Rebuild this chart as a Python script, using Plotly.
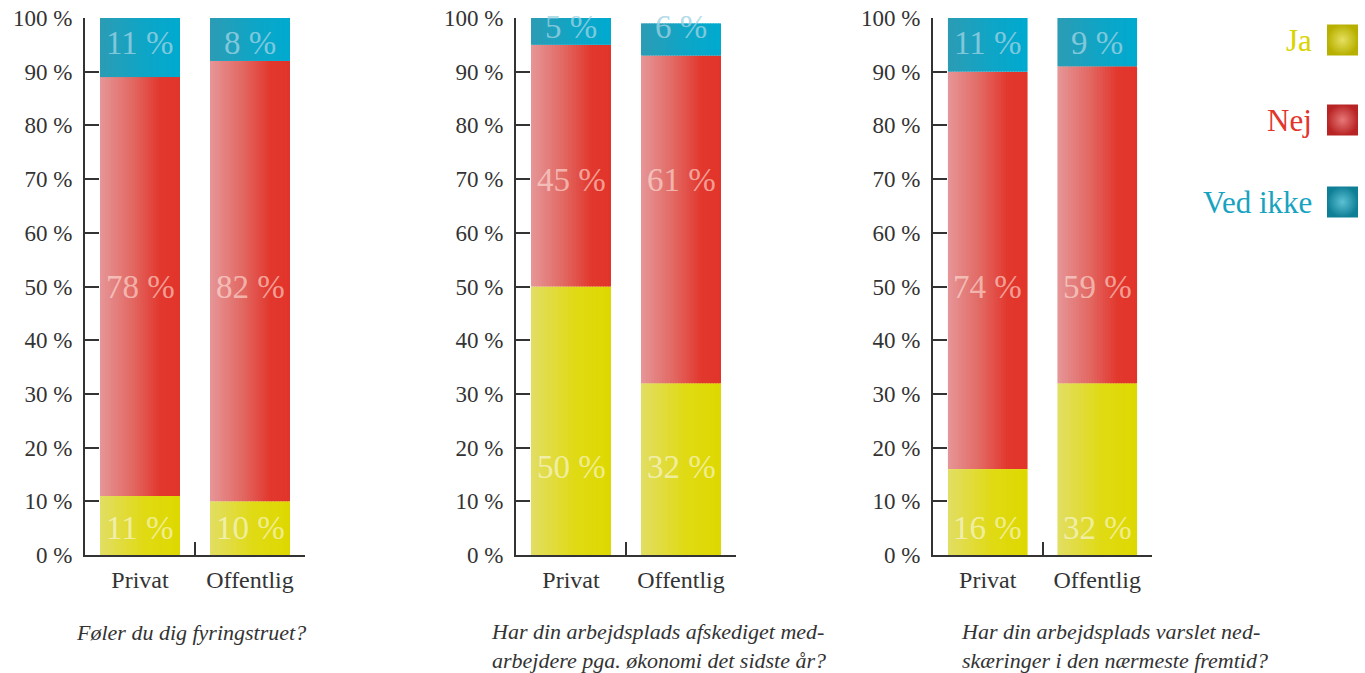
import plotly.graph_objects as go

# ---------------- data ----------------
categories = ["Privat", "Offentlig"]
questions = [
    "Føler du dig fyringstruet?",
    "Har din arbejdsplads afskediget med-<br>arbejdere pga. økonomi det sidste år?",
    "Har din arbejdsplads varslet ned-<br>skæringer i den nærmeste fremtid?",
]
ja = [[11, 10], [50, 32], [16, 32]]
nej = [[78, 82], [45, 61], [74, 59]]
ved_ikke = [[11, 8], [5, 6], [11, 9]]
series_names = ["Ja", "Nej", "Ved ikke"]
y_ticks = [0, 10, 20, 30, 40, 50, 60, 70, 80, 90, 100]
y_tick_labels = [f"{v} %" for v in y_ticks]

# where the value labels sit (axis units), per chart: Ja, Nej, Ved ikke
label_pos = [[5, 50, 95.3], [16.4, 69.8, 98.3], [5, 50, 95.3]]

# ---------------- styling ----------------
W, H = 1365, 673
FONT = '"Liberation Serif", "DejaVu Serif", serif'
AX = "#333333"

def px_x(x):
    return x / W

def px_y(y):
    return 1 - y / H

x_domains = [(85, 305), (516, 736), (933, 1152)]
y_domain = [px_y(555), px_y(18)]

grad_stops = {
    "Ja": [(0, (226, 222, 100)), (0.55, (224, 218, 20)), (1, (222, 216, 0))],
    "Nej": [(0, (230, 150, 152)), (0.4, (226, 105, 100)), (0.75, (226, 56, 46)), (1, (226, 52, 42))],
    "Ved ikke": [(0, (44, 156, 180)), (0.6, (12, 166, 200)), (1, (0, 170, 207))],
}
legend_colors = {"Ja": "#d9d300", "Nej": "#e2352c", "Ved ikke": "#17a3c0"}
swatch_edge = {"Ja": "#b8b000", "Nej": "#b82424", "Ved ikke": "#0f7f96"}
swatch_center = {"Ja": "#e6e060", "Nej": "#e87878", "Ved ikke": "#5cc0d4"}
label_colors = {
    "Ja": "rgba(255,255,255,0.55)",
    "Nej": "rgba(255,235,225,0.58)",
    "Ved ikke": "rgba(158,210,226,0.8)",
}

def interp(stops, t):
    for (t0, c0), (t1, c1) in zip(stops[:-1], stops[1:]):
        if t0 <= t <= t1:
            f = (t - t0) / (t1 - t0) if t1 > t0 else 0
            c = [round(a + (b - a) * f) for a, b in zip(c0, c1)]
            return f"rgb({c[0]},{c[1]},{c[2]})"
    c = stops[-1][1]
    return f"rgb({c[0]},{c[1]},{c[2]})"

BAR_W = 80 / 110
N_STRIPS = 30

fig = go.Figure()

for i in range(3):
    xa = "x" if i == 0 else f"x{i+1}"
    ya = "y" if i == 0 else f"y{i+1}"
    series_vals = [ja[i], nej[i], ved_ikke[i]]
    bases = [
        [0, 0],
        list(ja[i]),
        [a + b for a, b in zip(ja[i], nej[i])],
    ]
    for s, (name, vals, base) in enumerate(zip(series_names, series_vals, bases)):
        sw = BAR_W / N_STRIPS
        for k in range(N_STRIPS):
            t = (k + 0.5) / N_STRIPS
            width = sw if k == N_STRIPS - 1 else sw * 1.3
            fig.add_trace(go.Bar(
                x=categories, y=vals, base=base,
                width=[width] * len(categories),
                offset=[-BAR_W / 2 + k * sw] * len(categories),
                marker=dict(color=interp(grad_stops[name], t), line=dict(width=0)),
                xaxis=xa, yaxis=ya, showlegend=False, name=name,
                hovertemplate="%{x}: %{y} %<extra>" + name + "</extra>",
            ))
        # value labels
        for cat, v in zip(categories, vals):
            fig.add_annotation(
                x=cat, y=label_pos[i][s], xref=xa, yref=ya,
                text=f"{v} %", showarrow=False,
                xanchor="center", yanchor="middle",
                font=dict(family=FONT, size=33, color=label_colors[name]),
            )

# legend swatches on a hidden pixel-space overlay axis
legend_y = [40, 120, 202]
fig.add_trace(go.Scatter(
    x=[1342.5] * 3, y=legend_y, mode="markers",
    marker=dict(symbol="square", size=31,
                color=[swatch_edge[n] for n in series_names],
                gradient=dict(type="radial", color=[swatch_center[n] for n in series_names]),
                line=dict(width=0)),
    xaxis="x4", yaxis="y4", showlegend=False, hoverinfo="skip", cliponaxis=False,
))

layout = dict(
    width=W, height=H,
    margin=dict(l=0, r=0, t=0, b=0, autoexpand=False),
    paper_bgcolor="white", plot_bgcolor="rgba(0,0,0,0)",
    barmode="overlay",
    showlegend=False,
    font=dict(family=FONT, color=AX),
    xaxis4=dict(domain=[0, 1], range=[0, W], visible=False, fixedrange=True, anchor="y4"),
    yaxis4=dict(domain=[0, 1], range=[H, 0], visible=False, fixedrange=True, anchor="x4"),
)

for i in range(3):
    xk = "xaxis" if i == 0 else f"xaxis{i+1}"
    yk = "yaxis" if i == 0 else f"yaxis{i+1}"
    x0, x1 = x_domains[i]
    layout[xk] = dict(
        domain=[px_x(x0), px_x(x1)],
        anchor="y" if i == 0 else f"y{i+1}",
        type="category", categoryorder="array", categoryarray=categories,
        range=[-0.5, 1.5], automargin=False,
        tickson="boundaries", ticks="inside", ticklen=13, tickwidth=2, tickcolor=AX,
        showline=True, linecolor=AX, linewidth=2,
        showgrid=False, zeroline=False,
        tickfont=dict(family=FONT, size=24, color=AX),
        ticklabelstandoff=2,
        fixedrange=True,
    )
    layout[yk] = dict(
        domain=y_domain,
        anchor="x" if i == 0 else f"x{i+1}",
        range=[0, 100], automargin=False,
        tickvals=y_ticks, ticktext=y_tick_labels,
        ticks="inside", ticklen=14, tickwidth=2, tickcolor=AX,
        showline=True, linecolor=AX, linewidth=2,
        showgrid=False, zeroline=False,
        tickfont=dict(family=FONT, size=23, color=AX),
        ticklabelstandoff=6,
        fixedrange=True,
    )

fig.update_layout(**layout)

# captions
caption_pos = [(74, 632), (489, 646), (959, 646)]
for q, (cx, cy) in zip(questions, caption_pos):
    fig.add_annotation(
        x=px_x(cx), y=px_y(cy), xref="paper", yref="paper",
        xanchor="left", yanchor="middle", align="left",
        text=f"<i>{q}</i>", showarrow=False,
        font=dict(family=FONT, size=22, color=AX),
    )

# legend text (text on left, swatch on right)
for name, ly in zip(series_names, legend_y):
    fig.add_annotation(
        x=px_x(1314), y=px_y(ly), xref="paper", yref="paper",
        xanchor="right", yanchor="middle", text=name, showarrow=False,
        font=dict(family=FONT, size=31, color=legend_colors[name]),
    )

fig.write_html("out.html")
